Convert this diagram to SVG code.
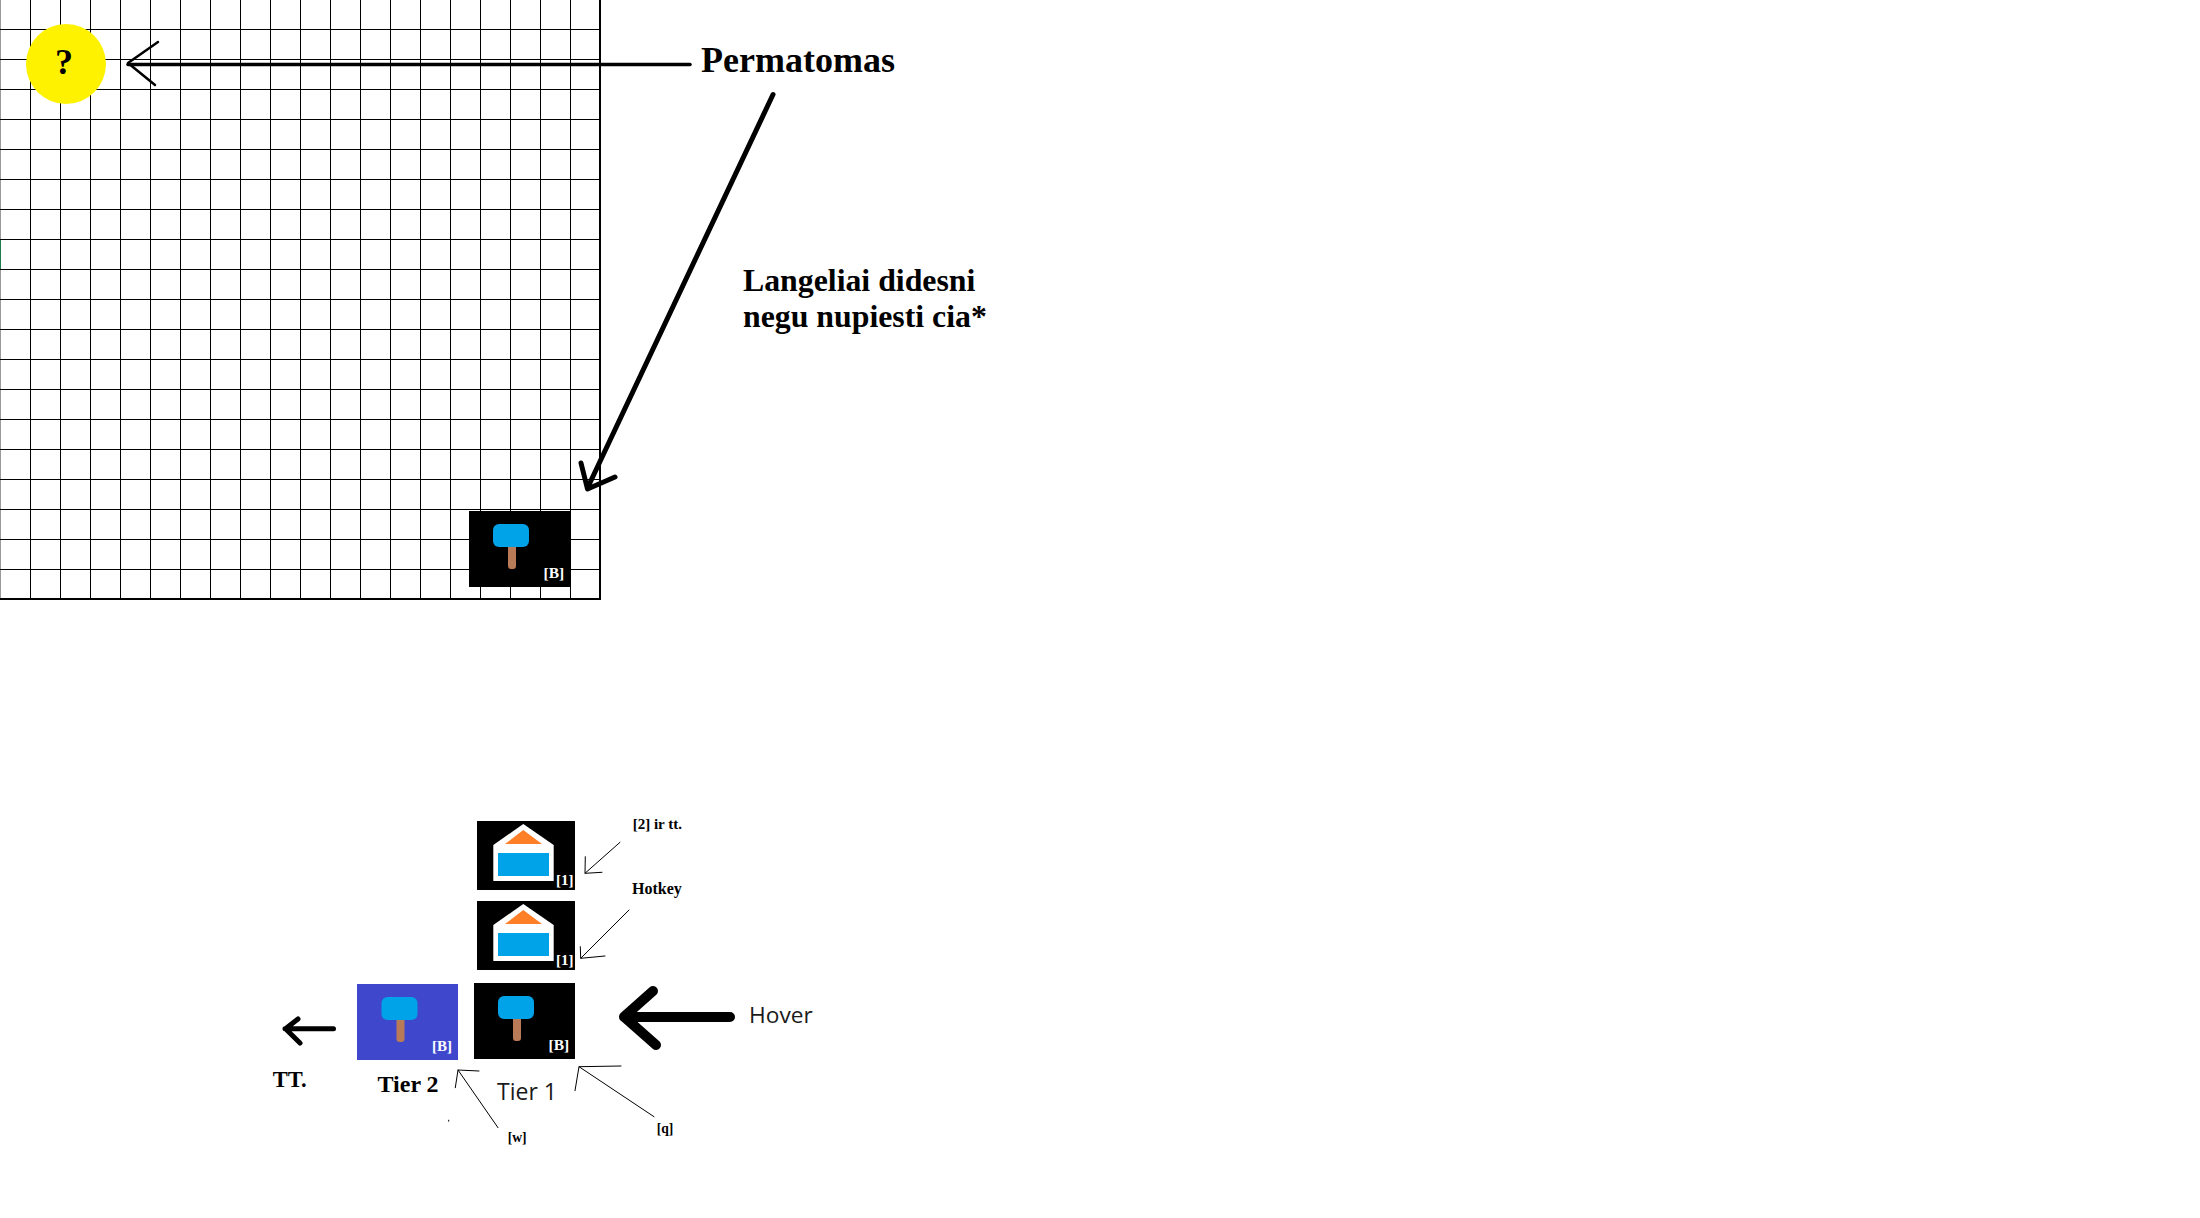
<svg xmlns="http://www.w3.org/2000/svg" xmlns:xlink="http://www.w3.org/1999/xlink" width="2200" height="1218" viewBox="0 0 2200 1218">
<style>
text{font-family:"Liberation Serif","Times New Roman",serif;font-weight:700;fill:#000}
.sans{font-family:"Open Sans","Noto Sans",sans-serif;font-weight:400;fill:#1a1a1a}
.key{fill:#fff}
.grid line{stroke:#000;stroke-width:1;shape-rendering:crispEdges}
.grid .edge{stroke-width:2}
.conn path{fill:none;stroke:#000;stroke-linecap:round;stroke-linejoin:round}
.thin{stroke-width:1}
.blue{fill:#00a2e8}
.wood{fill:#b97a57}
</style>
<defs>
<g id="hammer"><rect class="wood" x="15" y="20" width="8" height="25" rx="3"/><rect class="blue" x="0" y="0" width="36" height="23" rx="6"/></g>
<g id="house"><path fill="#fff" d="M46.300 3 L76.700 24 V60 H16.300 V24 Z"/><path fill="#ff7f27" d="M46.300 9 L65 23 H28 Z"/><rect class="blue" x="21" y="32" width="51" height="23"/></g>
</defs>
<rect width="2200" height="1218" fill="#fff"/>
<g id="grid" class="grid">
<line x1="0.500" y1="0" x2="0.500" y2="600" style="stroke:#9a9a9a"/>
<line x1="0.500" y1="240" x2="0.500" y2="270" style="stroke:#1d7a4d"/>
<line x1="30.500" y1="0" x2="30.500" y2="599"/><line x1="60.500" y1="0" x2="60.500" y2="599"/><line x1="90.500" y1="0" x2="90.500" y2="599"/><line x1="120.500" y1="0" x2="120.500" y2="599"/><line x1="150.500" y1="0" x2="150.500" y2="599"/><line x1="180.500" y1="0" x2="180.500" y2="599"/><line x1="210.500" y1="0" x2="210.500" y2="599"/><line x1="240.500" y1="0" x2="240.500" y2="599"/><line x1="270.500" y1="0" x2="270.500" y2="599"/><line x1="300.500" y1="0" x2="300.500" y2="599"/><line x1="330.500" y1="0" x2="330.500" y2="599"/><line x1="360.500" y1="0" x2="360.500" y2="599"/><line x1="390.500" y1="0" x2="390.500" y2="599"/><line x1="420.500" y1="0" x2="420.500" y2="599"/><line x1="450.500" y1="0" x2="450.500" y2="599"/><line x1="480.500" y1="0" x2="480.500" y2="599"/><line x1="510.500" y1="0" x2="510.500" y2="599"/><line x1="540.500" y1="0" x2="540.500" y2="599"/><line x1="570.500" y1="0" x2="570.500" y2="599"/>
<line x1="0" y1="29.500" x2="600" y2="29.500"/><line x1="0" y1="59.500" x2="600" y2="59.500"/><line x1="0" y1="89.500" x2="600" y2="89.500"/><line x1="0" y1="119.500" x2="600" y2="119.500"/><line x1="0" y1="149.500" x2="600" y2="149.500"/><line x1="0" y1="179.500" x2="600" y2="179.500"/><line x1="0" y1="209.500" x2="600" y2="209.500"/><line x1="0" y1="239.500" x2="600" y2="239.500"/><line x1="0" y1="269.500" x2="600" y2="269.500"/><line x1="0" y1="299.500" x2="600" y2="299.500"/><line x1="0" y1="329.500" x2="600" y2="329.500"/><line x1="0" y1="359.500" x2="600" y2="359.500"/><line x1="0" y1="389.500" x2="600" y2="389.500"/><line x1="0" y1="419.500" x2="600" y2="419.500"/><line x1="0" y1="449.500" x2="600" y2="449.500"/><line x1="0" y1="479.500" x2="600" y2="479.500"/><line x1="0" y1="509.500" x2="600" y2="509.500"/><line x1="0" y1="539.500" x2="600" y2="539.500"/><line x1="0" y1="569.500" x2="600" y2="569.500"/>
<line class="edge" x1="600" y1="0" x2="600" y2="600"/>
<line class="edge" x1="0" y1="599" x2="601" y2="599"/>
</g>
<g id="permatomas-node"><ellipse cx="66" cy="64" rx="40" ry="40" fill="#fff200"/><text x="64" y="74" font-size="36" text-anchor="middle">?</text></g>
<g id="grid-building"><rect x="469" y="511" width="102" height="76"/><use xlink:href="#hammer" href="#hammer" x="493" y="524"/><text class="key" x="543.500" y="577.500" font-size="15.500">[B]</text></g>
<g id="house-top"><rect x="477" y="821" width="98" height="69"/><use xlink:href="#house" href="#house" x="477" y="821"/><text class="key" x="556" y="885" font-size="15">[1]</text></g>
<g id="house-bottom"><rect x="477" y="901" width="98" height="69"/><use xlink:href="#house" href="#house" x="477" y="901"/><text class="key" x="556" y="965" font-size="15">[1]</text></g>
<g id="tier-1"><rect x="474" y="983" width="101" height="76"/><use xlink:href="#hammer" href="#hammer" x="498" y="996"/><text class="key" x="548.500" y="1049.500" font-size="15.500">[B]</text><text class="sans" x="497" y="1100" font-size="23">Tier 1</text></g>
<g id="tier-2"><rect x="357" y="984" width="101" height="76" fill="#3f48cc"/><use xlink:href="#hammer" href="#hammer" x="381.500" y="997"/><text class="key" x="432" y="1050.500" font-size="15">[B]</text><text x="377.500" y="1092" font-size="24">Tier 2</text></g>
<g id="connectors" class="conn">
<path stroke-width="3.500" stroke-linecap="butt" d="M128 64.500 H690"/>
<path stroke-width="2.500" d="M158 42 L128 63 L155 85"/>
<path stroke-width="5" d="M773 94.500 L587.500 488 M581 463 L587.500 489 L615 477"/>
<path stroke-width="5" d="M333.500 1028.700 H285 M298 1019 L285.500 1028.700 L300 1043"/>
<path stroke-width="10" d="M730 1017 H624 M653 991 L624 1016.700 L656 1045"/>
<path class="thin" d="M620 842.300 L585 873.300 M585.300 856.700 L585 873.300 L602 872.300"/>
<path class="thin" d="M629 910 L580.700 958.300 M580.300 946.700 L580.700 958.300 L605 956"/>
<path class="thin" d="M654 1116.700 L579 1066.700 M575 1090.700 L579 1066.700 L621 1066"/>
<path class="thin" d="M498 1127.700 L458 1070 M455.300 1087.700 L458 1070 L479 1071"/>
<path class="thin" d="M448.700 1120.200 V1121.200"/>
</g>
<g id="labels">
<text x="701" y="71.700" font-size="36">Permatomas</text>
<text x="743" y="290.700" font-size="31.800">Langeliai didesni</text>
<text x="743" y="326.700" font-size="31.800">negu nupiesti cia*</text>
<text x="632.700" y="829.300" font-size="15">[2] ir tt.</text>
<text x="632" y="894.300" font-size="16">Hotkey</text>
<text class="sans" x="749" y="1022.700" font-size="22.700">Hover</text>
<text x="272.700" y="1086.700" font-size="22.500">TT.</text>
<text x="507.700" y="1141.800" font-size="13.600">[w]</text>
<text x="656.700" y="1133" font-size="13.600">[q]</text>
</g>
</svg>
